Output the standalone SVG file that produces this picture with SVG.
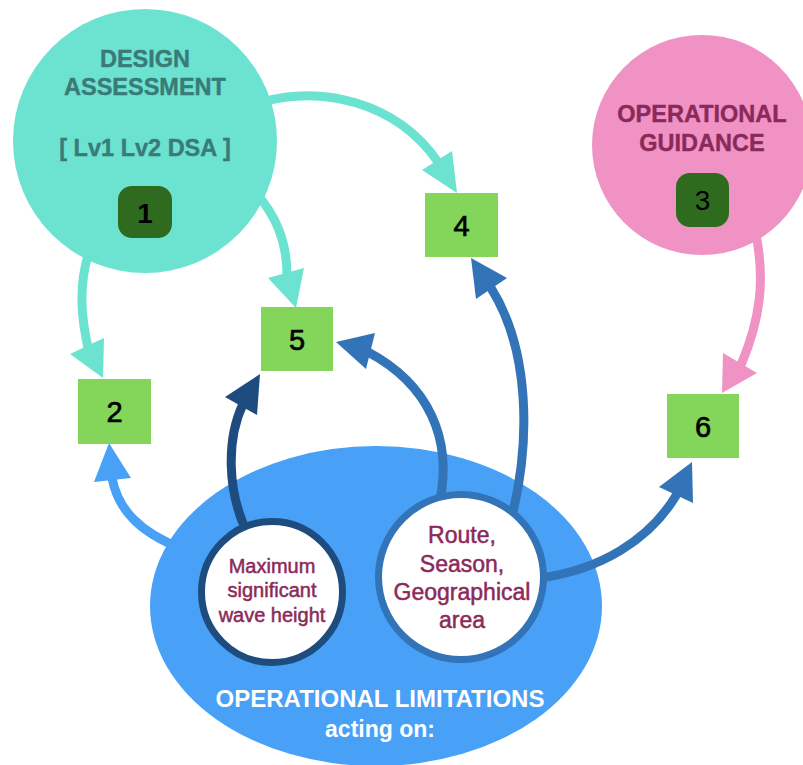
<svg xmlns="http://www.w3.org/2000/svg" width="803" height="765" viewBox="0 0 803 765">
<style>
  text { font-family: "Liberation Sans", Arial, sans-serif; text-anchor: middle; }
  .box { fill: #84d65a; }
  .num { font-size: 29px; fill: #000; stroke: #000; stroke-width: 0.7; }
  .badge { fill: #2f6b1e; }
  .title { font-size: 23.5px; font-weight: bold; stroke-width: 0.4; }
  .teal { stroke: #6ce3d1; }
  .tealf { fill: #6ce3d1; }
  .pink { stroke: #f093c4; }
  .pinkf { fill: #f093c4; }
  .lb { stroke: #48a0f7; }
  .lbf { fill: #48a0f7; }
  .navy { stroke: #1f4c7f; }
  .navyf { fill: #1f4c7f; }
  .mb { stroke: #3274b7; }
  .mbf { fill: #3274b7; }
  .conn path { fill: none; stroke-width: 9; }
  .lim { font-size: 20px; fill: #8b2a5a; stroke: #8b2a5a; stroke-width: 0.5; }
  .route { font-size: 23px; fill: #8b2a5a; stroke: #8b2a5a; stroke-width: 0.5; }
  .white { fill: #fff; font-weight: bold; font-size: 24px; }
</style>

<g id="limitations">
  <ellipse cx="376" cy="606" rx="226" ry="160" fill="#48a0f7"/>
  <text class="white" x="380" y="707">OPERATIONAL LIMITATIONS</text>
  <text class="white" x="380" y="737" style="font-size:23px">acting on:</text>
</g>

<g id="connectors" class="conn">
  <path class="teal" d="M 262 102 C 320 86, 395 100, 438 162"/>
  <polygon class="tealf" points="457,193 422,170 452,151"/>
  <path class="teal" d="M 88 255 C 78 290, 82 320, 88 348"/>
  <polygon class="tealf" points="103,378 70,354 104,338"/>
  <path class="teal" d="M 256 193 C 275 215, 287 240, 287 275"/>
  <polygon class="tealf" points="296,308 268,278 304,268"/>
  <path class="pink" d="M 755 230 C 766 280, 760 320, 741 365"/>
  <polygon class="pinkf" points="722,393 723,353 757,373"/>
  <path class="lb" d="M 180 548 C 140 532, 118 510, 112 478"/>
  <polygon class="lbf" points="109,443 94,482 131,478"/>
  <path class="navy" d="M 245 528 C 228 490, 226 440, 243 404"/>
  <polygon class="navyf" points="260,374 225,397 257,415"/>
  <path class="mb" d="M 440 500 C 452 440, 430 385, 368 352"/>
  <polygon class="mbf" points="336,342 375,333 366,369"/>
  <path class="mb" d="M 513 512 C 530 440, 530 350, 491 288"/>
  <polygon class="mbf" points="471,258 476,299 507,278"/>
  <path class="mb" d="M 540 578 C 600 570, 650 540, 677 494"/>
  <polygon class="mbf" points="692,462 659,487 693,503"/>
</g>

<g id="design-assessment">
  <circle cx="145" cy="141" r="132" fill="#6ce3d1"/>
  <text class="title" x="145" y="67" fill="#3a7a77" stroke="#3a7a77">DESIGN</text>
  <text class="title" x="145" y="95" fill="#3a7a77" stroke="#3a7a77">ASSESSMENT</text>
  <text class="title" x="145" y="156" fill="#3a7a77" stroke="#3a7a77">[ Lv1 Lv2 DSA ]</text>
  <rect class="badge" x="118" y="186" width="54" height="52" rx="14"/>
  <text x="145" y="223" style="font-size:28px;font-weight:bold">1</text>
</g>

<g id="operational-guidance">
  <circle cx="702" cy="145" r="110" fill="#f093c4"/>
  <text class="title" x="702" y="122" fill="#8b2a5a" stroke="#8b2a5a">OPERATIONAL</text>
  <text class="title" x="702" y="151" fill="#8b2a5a" stroke="#8b2a5a">GUIDANCE</text>
  <rect class="badge" x="676" y="173" width="53" height="54" rx="14"/>
  <text x="702.5" y="210" style="font-size:28px">3</text>
</g>

<g id="node-2">
  <rect class="box" x="78" y="379" width="73" height="65"/>
  <text class="num" x="114.5" y="422">2</text>
</g>
<g id="node-4">
  <rect class="box" x="425" y="193" width="73" height="64"/>
  <text class="num" x="461.5" y="236">4</text>
</g>
<g id="node-5">
  <rect class="box" x="261" y="307" width="72" height="64"/>
  <text class="num" x="297" y="350">5</text>
</g>
<g id="node-6">
  <rect class="box" x="667" y="394" width="72" height="64"/>
  <text class="num" x="703" y="437">6</text>
</g>

<g id="max-wave-height">
  <circle cx="272" cy="592" r="70.5" fill="#fff" stroke="#1f4c7f" stroke-width="7"/>
  <text class="lim" x="272" y="573">Maximum</text>
  <text class="lim" x="272" y="597">significant</text>
  <text class="lim" x="272" y="622">wave height</text>
</g>

<g id="route-season-area">
  <circle cx="461" cy="577" r="82.5" fill="#fff" stroke="#3274b7" stroke-width="7"/>
  <text class="route" x="462" y="543">Route,</text>
  <text class="route" x="462" y="572">Season,</text>
  <text class="route" x="462" y="600">Geographical</text>
  <text class="route" x="462" y="628">area</text>
</g>
</svg>
